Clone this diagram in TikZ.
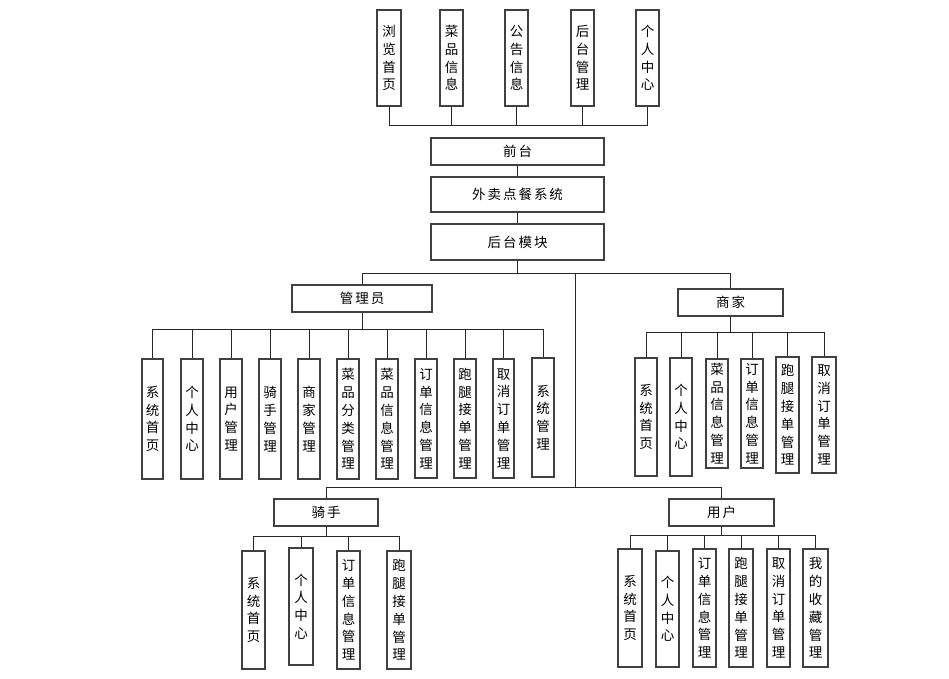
\documentclass[tikz,border=0pt]{standalone}
\usepackage{fontspec}
\newfontfamily\cjk{Noto Sans CJK SC}
\newcommand\gk{\kern2pt}
% \VB{name}{x1}{y1}{x2}{y2}{text}
\newcommand\VB[6]{\node[box, minimum width={(#4-#2)*1pt}, minimum height={(#5-#3)*1pt}] (#1) at ({(#2+#4)/2},{(#3+#5)/2}) {#6};}
\begin{document}
\begin{tikzpicture}[x=1pt,y=-1pt,
  box/.style={draw=black!75, line width=1.1pt, inner sep=0pt, align=center,
    font=\cjk\fontsize{13.5}{17.8}\selectfont},
  link/.style={draw=black!85, line width=1pt}]
\useasboundingbox (0,0) rectangle (949,679);
\fill[white] (0,0) rectangle (949,679);

% top row
\VB{t1}{377}{10}{401}{106}{浏\\览\\首\\页}
\VB{t2}{440}{10}{463}{106}{菜\\品\\信\\息}
\VB{t3}{505}{10}{528}{106}{公\\告\\信\\息}
\VB{t4}{571}{10}{594}{106}{后\\台\\管\\理}
\VB{t5}{636}{10}{659}{106}{个\\人\\中\\心}

\VB{qt}{431}{138}{604}{165}{前\gk 台}
\VB{wm}{431}{177}{604}{212}{外\gk 卖\gk 点\gk 餐\gk 系\gk 统}
\VB{hm}{431}{224}{604}{260}{后\gk 台\gk 模\gk 块}

\VB{adm}{292}{285}{432}{312}{管\gk 理\gk 员}
\VB{sj}{678}{289}{783}{316}{商\gk 家}
\VB{qs}{274}{499}{378}{526}{骑\gk 手}
\VB{yh}{669}{499}{774}{526}{用\gk 户}

% admin children
\VB{a1}{142}{359}{163}{479}{系\\统\\首\\页}
\VB{a2}{181}{359}{203}{479}{个\\人\\中\\心}
\VB{a3}{220}{359}{242}{479}{用\\户\\管\\理}
\VB{a4}{259}{359}{281}{479}{骑\\手\\管\\理}
\VB{a5}{298}{359}{320}{479}{商\\家\\管\\理}
\VB{a6}{337}{359}{359}{479}{菜\\品\\分\\类\\管\\理}
\VB{a7}{376}{359}{398}{479}{菜\\品\\信\\息\\管\\理}
\VB{a8}{415}{359}{437}{478}{订\\单\\信\\息\\管\\理}
\VB{a9}{454}{359}{476}{478}{跑\\腿\\接\\单\\管\\理}
\VB{a10}{493}{359}{514}{478}{取\\消\\订\\单\\管\\理}
\VB{a11}{532}{358}{554}{477}{系\\统\\管\\理}

% merchant children
\VB{s1}{635}{358}{657}{476}{系\\统\\首\\页}
\VB{s2}{670}{358}{692}{476}{个\\人\\中\\心}
\VB{s3}{706}{359}{728}{468}{菜\\品\\信\\息\\管\\理}
\VB{s4}{741}{359}{763}{468}{订\\单\\信\\息\\管\\理}
\VB{s5}{776}{357}{799}{473}{跑\\腿\\接\\单\\管\\理}
\VB{s6}{812}{357}{836}{473}{取\\消\\订\\单\\管\\理}

% rider children
\VB{r1}{242}{551}{265}{669}{系\\统\\首\\页}
\VB{r2}{289}{548}{313}{665}{个\\人\\中\\心}
\VB{r3}{337}{551}{360}{669}{订\\单\\信\\息\\管\\理}
\VB{r4}{387}{551}{411}{669}{跑\\腿\\接\\单\\管\\理}

% user children
\VB{u1}{618}{549}{642}{667}{系\\统\\首\\页}
\VB{u2}{656}{551}{679}{667}{个\\人\\中\\心}
\VB{u3}{693}{549}{716}{667}{订\\单\\信\\息\\管\\理}
\VB{u4}{729}{549}{753}{667}{跑\\腿\\接\\单\\管\\理}
\VB{u5}{767}{549}{790}{667}{取\\消\\订\\单\\管\\理}
\VB{u6}{803}{549}{828}{667}{我\\的\\收\\藏\\管\\理}

% bus levels
\coordinate (ytop) at (0,126);
\coordinate (ymain) at (0,273);
\coordinate (yadm) at (0,329);
\coordinate (ysj) at (0,332);
\coordinate (ybot) at (0,487);
\coordinate (yqs) at (0,536);
\coordinate (yyh) at (0,535);
\coordinate (trunk) at (575,273);

% top bus
\draw[link] (t1.south) |- (t5.south |- ytop) -- (t5.south);
\foreach \n in {t2,t3,t4} \draw[link] (\n.south) -- (\n.south |- ytop);

% central chain
\draw[link] (qt.south) -- (wm.north);
\draw[link] (wm.south) -- (hm.north);
\draw[link] (hm.south) -- (hm.south |- ymain);
\draw[link] (adm.north) |- (sj.north |- ymain) -- (sj.north);
\draw[link] (trunk) -- (trunk |- ybot);
\draw[link] (qs.north) |- (yh.north |- ybot) -- (yh.north);

% admin
\draw[link] (adm.south) -- (adm.south |- yadm);
\draw[link] (a1.north) |- (a11.north |- yadm) -- (a11.north);
\foreach \n in {a2,a3,a4,a5,a6,a7,a8,a9,a10} \draw[link] (\n.north) -- (\n.north |- yadm);

% merchant
\draw[link] (sj.south) -- (sj.south |- ysj);
\draw[link] (s1.north) |- (s6.north |- ysj) -- (s6.north);
\foreach \n in {s2,s3,s4,s5} \draw[link] (\n.north) -- (\n.north |- ysj);

% rider
\draw[link] (qs.south) -- (qs.south |- yqs);
\draw[link] (r1.north) |- (r4.north |- yqs) -- (r4.north);
\foreach \n in {r2,r3} \draw[link] (\n.north) -- (\n.north |- yqs);

% user
\draw[link] (yh.south) -- (yh.south |- yyh);
\draw[link] (u1.north) |- (u6.north |- yyh) -- (u6.north);
\foreach \n in {u2,u3,u4,u5} \draw[link] (\n.north) -- (\n.north |- yyh);
\end{tikzpicture}
\end{document}
